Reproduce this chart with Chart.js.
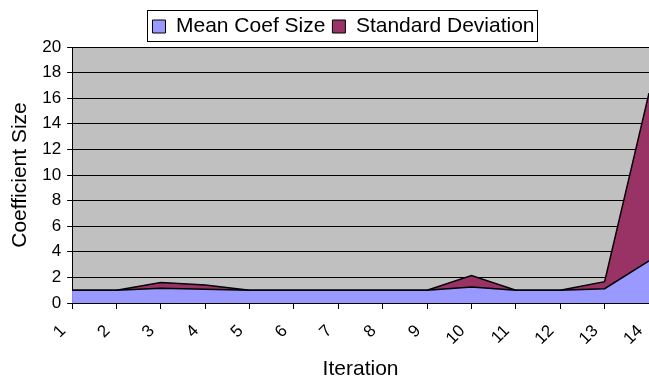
<!DOCTYPE html>
<html>
<head>
<meta charset="utf-8">
<script src="https://cdn.jsdelivr.net/npm/chart.js@4/dist/chart.umd.min.js"></script>
<style>
  html, body { margin: 0; padding: 0; background: #fff; }
  #wrap { width: 649px; height: 382px; position: relative; }
</style>
</head>
<body>
<div id="wrap"><canvas id="c"></canvas></div>
<script>
// Iterations on the x axis
const iterations = ['1','2','3','4','5','6','7','8','9','10','11','12','13','14'];
// Mean coefficient size per iteration
const meanCoefSize = [1.0, 1.0, 1.15, 1.07, 1.0, 1.0, 1.0, 1.0, 1.0, 1.25, 1.0, 1.0, 1.12, 3.3];
// Standard deviation, stacked on top of the mean
const stdDeviation = [0.0, 0.0, 0.45, 0.34, 0.0, 0.0, 0.0, 0.0, 0.0, 0.89, 0.0, 0.0, 0.55, 13.1];
// Value axis ticks
const yTicks = [0, 2, 4, 6, 8, 10, 12, 14, 16, 18, 20];

const FONT = "'Liberation Sans', Arial, sans-serif";

// Grey plot background
const plotBackground = {
  id: 'plotBackground',
  beforeDraw(chart) {
    const { ctx, chartArea: a } = chart;
    ctx.save();
    ctx.fillStyle = '#C0C0C0';
    ctx.fillRect(a.left, a.top, a.right - a.left, a.bottom - a.top);
    ctx.restore();
  }
};

// Nudge the legend a little right of the canvas centre, then frame it
const legendFrame = {
  id: 'legendFrame',
  afterLayout(chart) {
    const lg = chart.legend;
    if (!lg) return;
    lg.left += 15;
    lg.right += 15;
  },
  afterDraw(chart) {
    const lg = chart.legend;
    if (!lg || !lg.legendHitBoxes || !lg.legendHitBoxes.length) return;
    const boxes = lg.legendHitBoxes;
    const x0 = Math.min(...boxes.map(b => b.left)) - 5;
    const x1 = Math.max(...boxes.map(b => b.left + b.width)) + 3;
    const y0 = Math.min(...boxes.map(b => b.top)) - 6;
    const y1 = Math.max(...boxes.map(b => b.top + b.height)) + 4;
    const ctx = chart.ctx;
    ctx.save();
    ctx.strokeStyle = '#000';
    ctx.lineWidth = 1;
    ctx.strokeRect(Math.round(x0) + 0.5, Math.round(y0) + 0.5, Math.round(x1 - x0), Math.round(y1 - y0));
    ctx.restore();
  }
};

new Chart(document.getElementById('c'), {
  type: 'line',
  data: {
    labels: iterations,
    datasets: [
      {
        label: 'Mean Coef Size',
        data: meanCoefSize,
        backgroundColor: '#9999FF',
        borderColor: '#000',
        borderWidth: 1.5,
        fill: 'origin',
        pointRadius: 0,
        tension: 0
      },
      {
        label: 'Standard Deviation',
        data: stdDeviation,
        backgroundColor: '#993366',
        borderColor: '#000',
        borderWidth: 1.5,
        fill: '-1',
        pointRadius: 0,
        tension: 0
      }
    ]
  },
  options: {
    responsive: true,
    maintainAspectRatio: false,
    animation: false,
    layout: { padding: { left: 8, right: 0, top: 9, bottom: 0 } },
    plugins: {
      legend: {
        display: true,
        position: 'top',
        labels: {
          color: '#000',
          font: { family: FONT, size: 21 },
          boxWidth: 13,
          boxHeight: 13,
          padding: 7,
          useBorderRadius: false,
          generateLabels(chart) {
            return chart.data.datasets.map((ds, i) => ({
              text: ds.label,
              fillStyle: ds.backgroundColor,
              strokeStyle: '#000',
              lineWidth: 1,
              datasetIndex: i,
              hidden: false
            }));
          }
        }
      },
      tooltip: { enabled: false }
    },
    scales: {
      x: {
        type: 'category',
        offset: false,
        grid: { drawOnChartArea: false, drawTicks: true, tickLength: 6, color: '#000' },
        border: { display: true, color: '#000', width: 1 },
        ticks: {
          color: '#000',
          font: { family: FONT, size: 17 },
          minRotation: 45,
          maxRotation: 45,
          autoSkip: false,
          padding: 12,
          labelOffset: -9
        },
        title: {
          display: true,
          text: 'Iteration',
          color: '#000',
          font: { family: FONT, size: 21 },
          padding: { top: -4, bottom: 0 }
        },
        afterFit(scale) { scale.paddingRight = 0; }
      },
      y: {
        stacked: true,
        min: 0,
        max: 20,
        afterBuildTicks(scale) { scale.ticks = yTicks.map(v => ({ value: v })); },
        grid: { color: '#000', lineWidth: 1, drawTicks: true, tickLength: 5 },
        border: { display: true, color: '#000', width: 1 },
        ticks: {
          color: '#000',
          font: { family: FONT, size: 17 },
          padding: 6
        },
        title: {
          display: true,
          text: 'Coefficient Size',
          color: '#000',
          font: { family: FONT, size: 21 },
          padding: { top: 0, bottom: 3 }
        }
      }
    }
  },
  plugins: [plotBackground, legendFrame]
});
</script>
</body>
</html>
